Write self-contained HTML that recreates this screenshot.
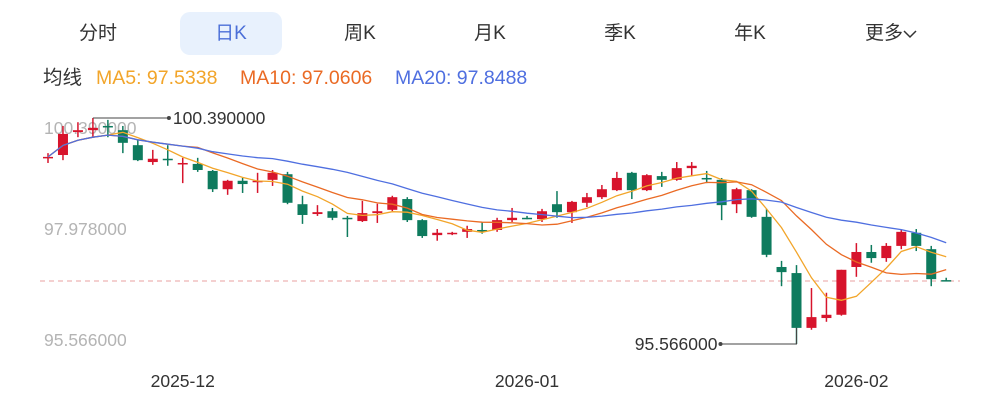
<!DOCTYPE html>
<html><head><meta charset="utf-8">
<style>
body{margin:0;background:#fff;width:1000px;height:400px;overflow:hidden;font-family:"Liberation Sans","Noto Sans CJK SC",sans-serif;}
.tab{position:absolute;top:12px;height:43px;line-height:43px;font-size:19px;color:#333;text-align:center;width:102px}
.tab.active{background:#e8f1fd;border-radius:10px;color:#4b6fd8}
.leg{position:absolute;top:66px;font-size:19.5px;line-height:24px}
svg{position:absolute;left:0;top:0}
</style></head><body>
<div class="tab" style="left:47px">分时</div>
<div class="tab active" style="left:180px">日K</div>
<div class="tab" style="left:309px">周K</div>
<div class="tab" style="left:439px">月K</div>
<div class="tab" style="left:569px">季K</div>
<div class="tab" style="left:699px">年K</div>
<div class="tab" style="left:840px">更多<svg style="position:relative;display:inline-block;vertical-align:middle" width="14" height="10" viewBox="0 0 14 10"><path d="M1 2 L7 8 L13 2" fill="none" stroke="#333" stroke-width="1.5"/></svg></div>
<div class="leg" style="left:43px;color:#333">均线</div>
<div class="leg" style="left:96px;color:#f2a52a">MA5: 97.5338</div>
<div class="leg" style="left:240px;color:#ea6a24">MA10: 97.0606</div>
<div class="leg" style="left:395px;color:#4f6fe0">MA20: 97.8488</div>
<svg id="chart" width="1000" height="400"></svg>
<script>
const opens=[99.54,99.60,100.09,100.13,100.22,100.13,99.81,99.45,99.52,99.41,99.41,99.26,98.87,99.05,99.02,99.07,99.19,98.55,98.34,98.40,98.26,98.19,98.36,98.43,98.66,98.21,97.89,97.92,97.96,98.00,98.00,98.21,98.26,98.23,98.55,98.38,98.58,98.70,98.85,99.22,98.85,99.15,99.07,99.32,99.11,99.07,98.55,98.85,98.28,97.21,97.08,95.91,96.12,96.19,97.21,97.53,97.40,97.66,97.94,97.59,96.93];
const closes=[99.56,100.05,100.13,100.18,100.20,99.86,99.49,99.52,99.49,99.43,99.28,98.87,99.05,98.98,99.05,99.22,98.58,98.32,98.38,98.26,98.23,98.36,98.40,98.70,98.21,97.87,97.94,97.94,98.02,97.98,98.21,98.26,98.23,98.40,98.38,98.60,98.70,98.87,99.11,98.85,99.17,99.07,99.32,99.37,99.09,98.53,98.87,98.28,97.47,97.10,95.91,96.14,96.19,97.15,97.53,97.40,97.66,97.96,97.66,96.95,96.91];
const highs=[99.64,100.22,100.30,100.39,100.35,100.22,99.92,99.71,99.81,99.54,99.54,99.28,99.07,99.11,99.22,99.28,99.24,98.73,98.53,98.47,98.30,98.62,98.56,98.73,98.70,98.23,98.02,97.96,98.09,98.17,98.26,98.47,98.30,98.45,98.83,98.62,98.79,98.96,99.24,99.24,99.19,99.24,99.45,99.45,99.26,99.11,98.90,98.87,98.45,97.34,97.25,96.76,96.66,97.15,97.72,97.68,97.72,98.00,98.02,97.66,96.98];
const lows=[99.43,99.49,99.98,99.98,99.98,99.64,99.47,99.39,99.37,99.00,99.24,98.81,98.75,98.79,98.79,98.94,98.55,98.13,98.30,98.21,97.85,98.17,98.15,98.40,98.17,97.83,97.77,97.89,97.83,97.92,97.96,98.17,98.23,98.17,98.26,98.15,98.49,98.66,98.83,98.66,98.83,98.92,99.05,99.15,99.00,98.21,98.36,98.26,97.42,96.80,95.566,95.87,96.04,96.17,97.00,97.30,97.32,97.59,97.55,96.80,96.91];
const dateLabels=["2025-12","2026-01","2026-02"];
const dateIndex=[9,32,54];
const yTicks=[100.39,97.978,95.566];

const svg=document.getElementById('chart');
const NS='http://www.w3.org/2000/svg';
const maxP=Math.max(...highs), minP=Math.min(...lows);
const yTop=118, yBot=344, x0=48, step=14.97;
const Y=p=>yTop+(maxP-p)/(maxP-minP)*(yBot-yTop);
const X=i=>x0+i*step;
function mk(tag,attrs,name,parent){const e=document.createElementNS(NS,tag);for(const k in attrs)e.setAttribute(k,attrs[k]);


(parent||svg).appendChild(e);return e;}

const tickOff=[10,-2,-4];
yTicks.forEach((t,i)=>{const tx=mk('text',{x:44,y:Y(t)+tickOff[i]+6,'font-size':17.5,fill:'#b4b4b4','font-family':'Liberation Sans'},'y-tick-label');tx.textContent=t.toFixed(6);});
dateLabels.forEach((d,i)=>{const tx=mk('text',{x:X(dateIndex[i]),y:387,'font-size':17.5,fill:'#333','text-anchor':'middle','font-family':'Liberation Sans'},'x-axis-date-label');tx.textContent=d;});
const last=closes[closes.length-1];
mk('line',{x1:40,x2:960,y1:Y(last),y2:Y(last),stroke:'#eaa0a0','stroke-dasharray':'5,4','stroke-width':1},'last-price-line');

for(let i=0;i<opens.length;i++){
 const up=closes[i]>=opens[i];const col=up?'#d7142c':'#0e7b5e';
 const g=mk('g',{},'candle-'+(i+1));
 mk('line',{x1:X(i),x2:X(i),y1:Y(highs[i]),y2:Y(lows[i]),stroke:col,'stroke-width':1.5},'candle-wick',g);
 const t=Y(Math.max(opens[i],closes[i])),b=Y(Math.min(opens[i],closes[i]));
 mk('rect',{x:X(i)-5,y:t,width:10,height:Math.max(1.5,b-t),fill:col},'candle-body',g);
}
function ma(n){return closes.map((c,i)=>{const s=closes.slice(Math.max(0,i-n+1),i+1);return s.reduce((a,b)=>a+b,0)/s.length;});}
[[5,'#f2a52a'],[10,'#ea6a24'],[20,'#4f6fe0']].forEach(([n,c])=>{
 const v=ma(n);const d=v.map((p,i)=>(i?'L':'M')+X(i).toFixed(1)+' '+Y(p).toFixed(1)).join(' ');
 mk('path',{d:d,fill:'none',stroke:c,'stroke-width':1.3},'ma'+n+'-line');
});
const iMax=highs.indexOf(maxP), iMin=lows.indexOf(minP);
mk('path',{d:`M${X(iMax)} ${Y(maxP)} L${X(iMax)+76} ${Y(maxP)}`,stroke:'#444',fill:'none'},'max-annotation-line');
mk('circle',{cx:X(iMax)+76,cy:Y(maxP),r:2,fill:'#444'},'max-annotation-dot');
let t1=mk('text',{x:X(iMax)+80,y:Y(maxP)+6,'font-size':17.5,fill:'#333','font-family':'Liberation Sans'},'max-price-label');t1.textContent=maxP.toFixed(6);
mk('path',{d:`M${X(iMin)} ${Y(closes[iMin])} L${X(iMin)} ${Y(minP)} L${X(iMin)-76} ${Y(minP)}`,stroke:'#444',fill:'none'},'min-annotation-line');
mk('circle',{cx:X(iMin)-76,cy:Y(minP),r:2,fill:'#444'},'min-annotation-dot');
let t2=mk('text',{x:X(iMin)-79,y:Y(minP)+6,'font-size':17.5,fill:'#333','text-anchor':'end','font-family':'Liberation Sans'},'min-price-label');t2.textContent=minP.toFixed(6);
</script>
</body></html>
